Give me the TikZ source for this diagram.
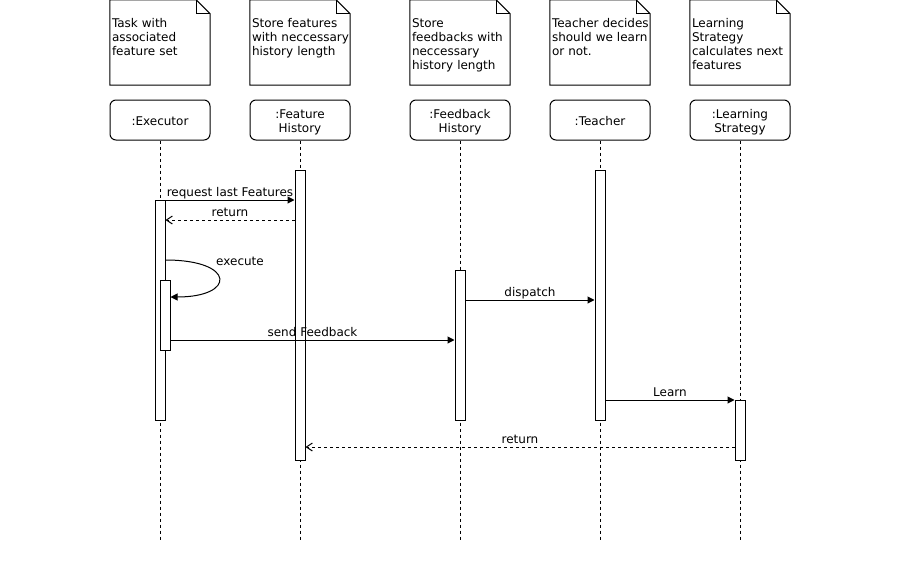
\documentclass[tikz,border=0pt]{standalone}
\usepackage{fontspec}
\setmainfont{DejaVu Sans}
\usetikzlibrary{arrows.meta,calc}
\tikzset{
  base/.style={font=\fontsize{12}{14}\selectfont, text=black},
  notebox/.style={draw=none, minimum width=100pt, minimum height=85pt, inner sep=0pt},
  notetext/.style={base, anchor=north west, inner sep=0pt, text width=98pt, align=left},
  headbox/.style={draw, line width=1pt, rounded corners=6pt, minimum width=100pt, minimum height=40pt, inner sep=0pt},
  headtext/.style={base, align=center, inner sep=0pt},
  lifeline/.style={draw, line width=1pt, dash pattern=on 3pt off 3pt},
  actbar/.style={draw, fill=white, line width=1pt, minimum width=10pt, inner sep=0pt},
  msg/.style={line width=1pt, -{Triangle[length=7pt,width=7pt]}},
  retmsg/.style={line width=1pt, dash pattern=on 3pt off 3pt, -{Straight Barb[length=6pt,width=8pt,line width=1pt]}},
  msglabel/.style={base, anchor=base, yshift=4pt, inner sep=0pt},
}
\newcommand{\notefold}[1]{%
  \draw[line width=1pt] (#1.north west) -- ([xshift=-14pt]#1.north east) -- ([yshift=-14pt]#1.north east) -- (#1.south east) -- (#1.south west) -- cycle;
  \draw[line width=1pt] ([xshift=-14pt]#1.north east) -- ([xshift=-14pt,yshift=-14pt]#1.north east) -- ([yshift=-14pt]#1.north east);
}
\begin{document}
\begin{tikzpicture}[x=1pt,y=-1pt]
\useasboundingbox (0,0) rectangle (900,560);
\fill[white] (0,0) rectangle (900,560);

% notes
\node[notebox] (n1) at (160,42.5) {};
\node[notebox] (n2) at (300,42.5) {};
\node[notebox] (n3) at (460,42.5) {};
\node[notebox] (n4) at (600,42.5) {};
\node[notebox] (n5) at (740,42.5) {};
\foreach \n in {n1,n2,n3,n4,n5} {\notefold{\n}}
\node[notetext] (t1) at ([xshift=2pt,yshift=-18.2pt]n1.north west) {Task with\\associated\\feature set};
\node[notetext] (t2) at ([xshift=2pt,yshift=-18.2pt]n2.north west) {Store features\\with neccessary\\history length};
\node[notetext] (t3) at ([xshift=2pt,yshift=-18.2pt]n3.north west) {Store\\feedbacks with\\neccessary\\history length};
\node[notetext] (t4) at ([xshift=2pt,yshift=-18.2pt]n4.north west) {Teacher decides\\should we learn\\or not.};
\node[notetext] (t5) at ([xshift=2pt,yshift=-18.2pt]n5.north west) {Learning\\Strategy\\calculates next\\features};

% lifeline heads
\node[headbox] (h1) at (160,120) {};
\node[headbox] (h2) at (300,120) {};
\node[headbox] (h3) at (460,120) {};
\node[headbox] (h4) at (600,120) {};
\node[headbox] (h5) at (740,120) {};
\node[headtext] (ht1) at ([yshift=-1.5pt]h1.center) {:Executor};
\node[headtext] (ht2) at ([yshift=-2.5pt]h2.center) {:Feature\\History};
\node[headtext] (ht3) at ([yshift=-2.5pt]h3.center) {:Feedback\\History};
\node[headtext] (ht4) at ([yshift=-1.5pt]h4.center) {:Teacher};
\node[headtext] (ht5) at ([yshift=-2.5pt]h5.center) {:Learning\\Strategy};

% lifeline ends
\coordinate (e1) at (160,540);
\coordinate (e2) at (300,540);
\coordinate (e3) at (460,540);
\coordinate (e4) at (600,540);
\coordinate (e5) at (740,540);
\draw[lifeline] (h1.south) -- (e1);
\draw[lifeline] (h2.south) -- (e2);
\draw[lifeline] (h3.south) -- (e3);
\draw[lifeline] (h4.south) -- (e4);
\draw[lifeline] (h5.south) -- (e5);

% activation bars
\node[actbar, minimum height=220pt] (aE) at (160,310) {};
\node[actbar, minimum height=70pt] (aX) at (165,315) {};
\node[actbar, minimum height=290pt] (aF) at (300,315) {};
\node[actbar, minimum height=150pt] (aB) at (460,345) {};
\node[actbar, minimum height=250pt] (aT) at (600,295) {};
\node[actbar, minimum height=60pt] (aL) at (740,430) {};

% message levels
\coordinate (y1) at (0,200);
\coordinate (y2) at (0,220);
\coordinate (y3a) at (0,260);
\coordinate (y3b) at (0,297);
\coordinate (y4) at (0,300);
\coordinate (y5) at (0,340);
\coordinate (y6) at (0,400);
\coordinate (y7) at (0,447);

% messages
\draw[msg] (aE.east |- y1) -- (aF.west |- y1) node[msglabel, midway] {request last Features};
\draw[retmsg] (aF.west |- y2) -- (aE.east |- y2) node[msglabel, midway] {return};
\draw[msg] (aE.east |- y3a) .. controls (236,260) and (236,297) .. (aX.east |- y3b);
\node[base, anchor=base, inner sep=0pt] (lx) at (240,265) {execute};
\draw[msg] (aB.east |- y4) -- (aT.west |- y4) node[msglabel, midway] {dispatch};
\draw[msg] (aX.east |- y5) -- (aB.west |- y5) node[msglabel, midway] {send Feedback};
\draw[msg] (aT.east |- y6) -- (aL.west |- y6) node[msglabel, midway] {Learn};
\draw[retmsg] (aL.west |- y7) -- (aF.east |- y7) node[msglabel, midway] {return};
\end{tikzpicture}
\end{document}
